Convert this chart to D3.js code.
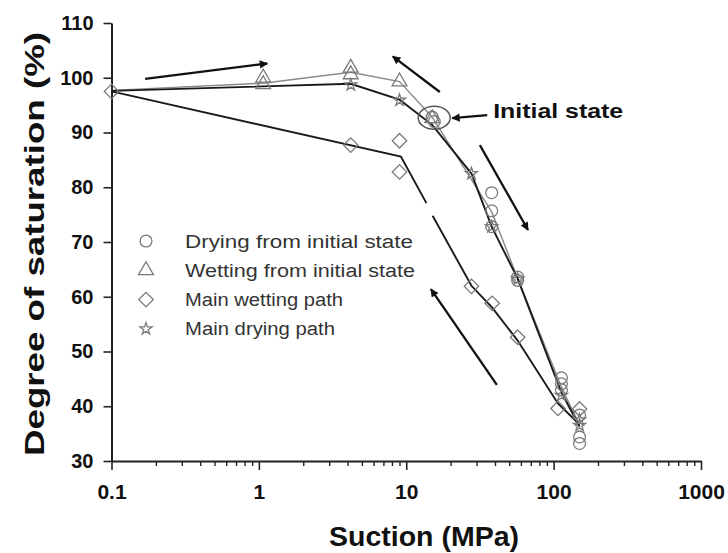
<!DOCTYPE html>
<html>
<head>
<meta charset="utf-8">
<script src="https://cdn.jsdelivr.net/npm/d3@7"></script>
<style>
  html, body { margin: 0; padding: 0; background: #fff; }
  svg { display: block; font-family: "Liberation Sans", Arial, sans-serif; }
</style>
</head>
<body>
<svg id="chart" width="728" height="553"></svg>
<script>
// ---- data ----
const xTicks = [0.1, 1, 10, 100, 1000];
const xTickLabels = ["0.1", "1", "10", "100", "1000"];
const yTicks = [30, 40, 50, 60, 70, 80, 90, 100, 110];

// Drying from initial state (circles)
const dryInitSuction = [15, 15.5, 38, 38, 38, 57, 57, 113, 113, 113, 150, 150, 150];
const dryInitSat     = [92.8, 92.0, 79.0, 75.7, 72.8, 63.6, 63.0, 45.2, 44.1, 43.0, 38.4, 34.4, 33.2];
const dryInitLineSuction = [15, 38, 57, 113, 150];
const dryInitLineSat     = [92.8, 75.5, 63.4, 43.5, 36.5];

// Wetting from initial state (triangles)
const wetInitSuction = [1.07, 1.07, 4.2, 4.2, 9.0, 15];
const wetInitSat     = [100.0, 98.8, 101.8, 100.6, 99.3, 92.6];
const wetInitLineSuction = [0.1, 1.07, 4.2, 9.0, 15];
const wetInitLineSat     = [97.7, 99.0, 101.0, 99.3, 92.8];

// Main wetting path (diamonds)
const mainWetSuction = [0.1, 4.2, 9.0, 9.0, 27.7, 38.3, 57, 107, 150];
const mainWetSat     = [97.5, 87.7, 88.5, 82.8, 61.9, 58.8, 52.6, 39.6, 39.5];
const mainWetLineSuction = [0.1, 9.2, 13.7, null, 15.1, 27.7, 38.3, 57, 107, 148];
const mainWetLineSat     = [97.5, 85.6, 77.1, null, 74.8, 62.0, 58.0, 52.0, 40.5, 36.8];

// Main drying path (stars)
const mainDrySuction = [4.2, 9.0, 27.7, 38, 57, 113, 150, 150];
const mainDrySat     = [98.7, 95.9, 82.5, 72.8, 63.2, 42.0, 37.5, 36.5];
const mainDryLineSuction = [0.1, 4.2, 9.0, 15, 27.7, 38, 57, 113, 150];
const mainDryLineSat     = [97.6, 98.9, 96.0, 91.4, 82.5, 72.8, 63.3, 42.5, 36.3];

const legendLabels = ["Drying from initial state", "Wetting from initial state", "Main wetting path", "Main drying path"];

// annotation arrows [suction, saturation] pairs: tail -> head
const arrowTails = [[0.169, 99.8], [16.9, 97.4], [31.6, 87.7], [41.2, 43.9]];
const arrowHeads = [[1.14, 102.6], [8.1, 103.9], [67, 72.2], [14.7, 61.4]];

// ---- chart ----
const svg = d3.select("#chart");
const x = d3.scaleLog().domain([0.1, 1000]).range([111.5, 701]);
const y = d3.scaleLinear().domain([30, 110]).range([461, 23]);

const grey = "#7a7a7a";
const zip = (a, b) => a.map((v, i) => [v, b[i]]);

// axes
const yAxis = d3.axisLeft(y).tickValues(yTicks).tickSize(8).tickSizeOuter(0).tickPadding(10);
const gy = svg.append("g").attr("transform", `translate(${x(0.1)},0)`).call(yAxis);
gy.select(".domain").attr("stroke", "#222").attr("stroke-width", 2);
gy.selectAll(".tick line").attr("stroke", "#222").attr("stroke-width", 1.6);
gy.selectAll(".tick text").attr("font-size", 20).attr("font-weight", "bold").attr("fill", "#111")
  .attr("font-family", "Liberation Sans, Arial, sans-serif");

const minorTicks = [];
for (let d = 0.1; d < 1000; d *= 10) for (let k = 2; k <= 9; k++) minorTicks.push(+(d * k).toPrecision(3));
const xAxis = d3.axisBottom(x).tickValues(xTicks).tickFormat((d, i) => xTickLabels[i])
  .tickSize(9).tickSizeOuter(0).tickPadding(14);
const gx = svg.append("g").attr("transform", `translate(0,${y(30)})`).call(xAxis);
gx.select(".domain").attr("stroke", "#222").attr("stroke-width", 2);
gx.selectAll(".tick line").attr("stroke", "#222").attr("stroke-width", 1.6);
gx.selectAll(".tick text").attr("font-size", 21).attr("font-weight", "bold").attr("fill", "#111")
  .attr("font-family", "Liberation Sans, Arial, sans-serif");
const xMinor = d3.axisBottom(x).tickValues(minorTicks).tickFormat("").tickSize(5).tickSizeOuter(0);
const gxm = svg.append("g").attr("transform", `translate(0,${y(30)})`).call(xMinor);
gxm.select(".domain").remove();
gxm.selectAll(".tick line").attr("stroke", "#222").attr("stroke-width", 1.4);

// axis titles
svg.append("text").attr("x", 424).attr("y", 546).attr("text-anchor", "middle")
  .attr("font-size", 28).attr("font-weight", "bold").attr("fill", "#111")
  .attr("textLength", 190).attr("lengthAdjust", "spacingAndGlyphs")
  .text("Suction (MPa)");
svg.append("text").attr("transform", "translate(44,244) rotate(-90)").attr("text-anchor", "middle")
  .attr("font-size", 28).attr("font-weight", "bold").attr("fill", "#111")
  .attr("textLength", 424).attr("lengthAdjust", "spacingAndGlyphs")
  .text("Degree of saturation (%)");

// lines
const line = d3.line().defined(d => d[0] != null).x(d => x(d[0])).y(d => y(d[1]));
svg.append("path").datum(zip(wetInitLineSuction, wetInitLineSat)).attr("d", line)
  .attr("fill", "none").attr("stroke", "#8a8a8a").attr("stroke-width", 1.4);
svg.append("path").datum(zip(dryInitLineSuction, dryInitLineSat)).attr("d", line)
  .attr("fill", "none").attr("stroke", "#8a8a8a").attr("stroke-width", 1.4);
svg.append("path").datum(zip(mainWetLineSuction, mainWetLineSat)).attr("d", line)
  .attr("fill", "none").attr("stroke", "#1a1a1a").attr("stroke-width", 1.9);
svg.append("path").datum(zip(mainDryLineSuction, mainDryLineSat)).attr("d", line)
  .attr("fill", "none").attr("stroke", "#1a1a1a").attr("stroke-width", 1.9);

// markers
const symCircle = d3.symbol().type(d3.symbolCircle).size(110);
const symTri = d3.symbol().type(d3.symbolTriangle).size(95);
const symDiamond = d3.symbol().type(d3.symbolSquare).size(105);
const symStar = d3.symbol().type(d3.symbolStar).size(45);

function drawMarkers(sx, sy, sym, rot) {
  svg.append("g").selectAll("path").data(zip(sx, sy)).join("path")
    .attr("d", sym)
    .attr("transform", d => `translate(${x(d[0])},${y(d[1])}) rotate(${rot})`)
    .attr("fill", "none").attr("stroke", grey).attr("stroke-width", 1.3);
}
drawMarkers(dryInitSuction, dryInitSat, symCircle, 0);
drawMarkers(wetInitSuction, wetInitSat, symTri, 0);
drawMarkers(mainWetSuction, mainWetSat, symDiamond, 45);
drawMarkers(mainDrySuction, mainDrySat, symStar, 0);

// arrows
const defs = svg.append("defs");
defs.append("marker").attr("id", "ah").attr("viewBox", "0 0 10 10").attr("refX", 9).attr("refY", 5)
  .attr("markerWidth", 5.5).attr("markerHeight", 3.6).attr("orient", "auto")
  .attr("markerUnits", "strokeWidth")
  .append("path").attr("d", "M0,0 L10,5 L0,10 Z").attr("fill", "#111");
arrowTails.forEach((t, i) => {
  const h = arrowHeads[i];
  svg.append("line").attr("x1", x(t[0])).attr("y1", y(t[1])).attr("x2", x(h[0])).attr("y2", y(h[1]))
    .attr("stroke", "#111").attr("stroke-width", 2.3).attr("marker-end", "url(#ah)");
});

// initial state annotation
const initPt = [15, 92.8];
svg.append("ellipse").attr("cx", x(initPt[0]) + 2).attr("cy", y(initPt[1]) + 0.5)
  .attr("rx", 16).attr("ry", 11.5).attr("fill", "none").attr("stroke", "#555").attr("stroke-width", 1.5);
svg.append("line").attr("x1", x(initPt[0]) + 55).attr("y1", y(initPt[1]) - 2)
  .attr("x2", x(initPt[0]) + 20).attr("y2", y(initPt[1]) + 1)
  .attr("stroke", "#111").attr("stroke-width", 2.3).attr("marker-end", "url(#ah)");
svg.append("text").attr("x", x(initPt[0]) + 61).attr("y", y(initPt[1]) + 1)
  .attr("font-size", 20).attr("font-weight", "bold").attr("fill", "#111")
  .attr("textLength", 130).attr("lengthAdjust", "spacingAndGlyphs")
  .text("Initial state");

// legend
const legSyms = [symCircle, symTri, symDiamond, symStar];
const legRot = [0, 0, 45, 0];
const legTextLen = [228, 230, 158, 150];
const lg = svg.append("g");
legendLabels.forEach((lab, i) => {
  const cy = 241 + i * 29.3;
  lg.append("path").attr("d", legSyms[i]).attr("transform", `translate(146,${cy}) rotate(${legRot[i]})`)
    .attr("fill", "none").attr("stroke", grey).attr("stroke-width", 1.3);
  lg.append("text").attr("x", 185).attr("y", cy + 6.5).attr("font-size", 18).attr("fill", "#333")
    .attr("textLength", legTextLen[i]).attr("lengthAdjust", "spacingAndGlyphs").text(lab);
});
</script>
</body>
</html>
